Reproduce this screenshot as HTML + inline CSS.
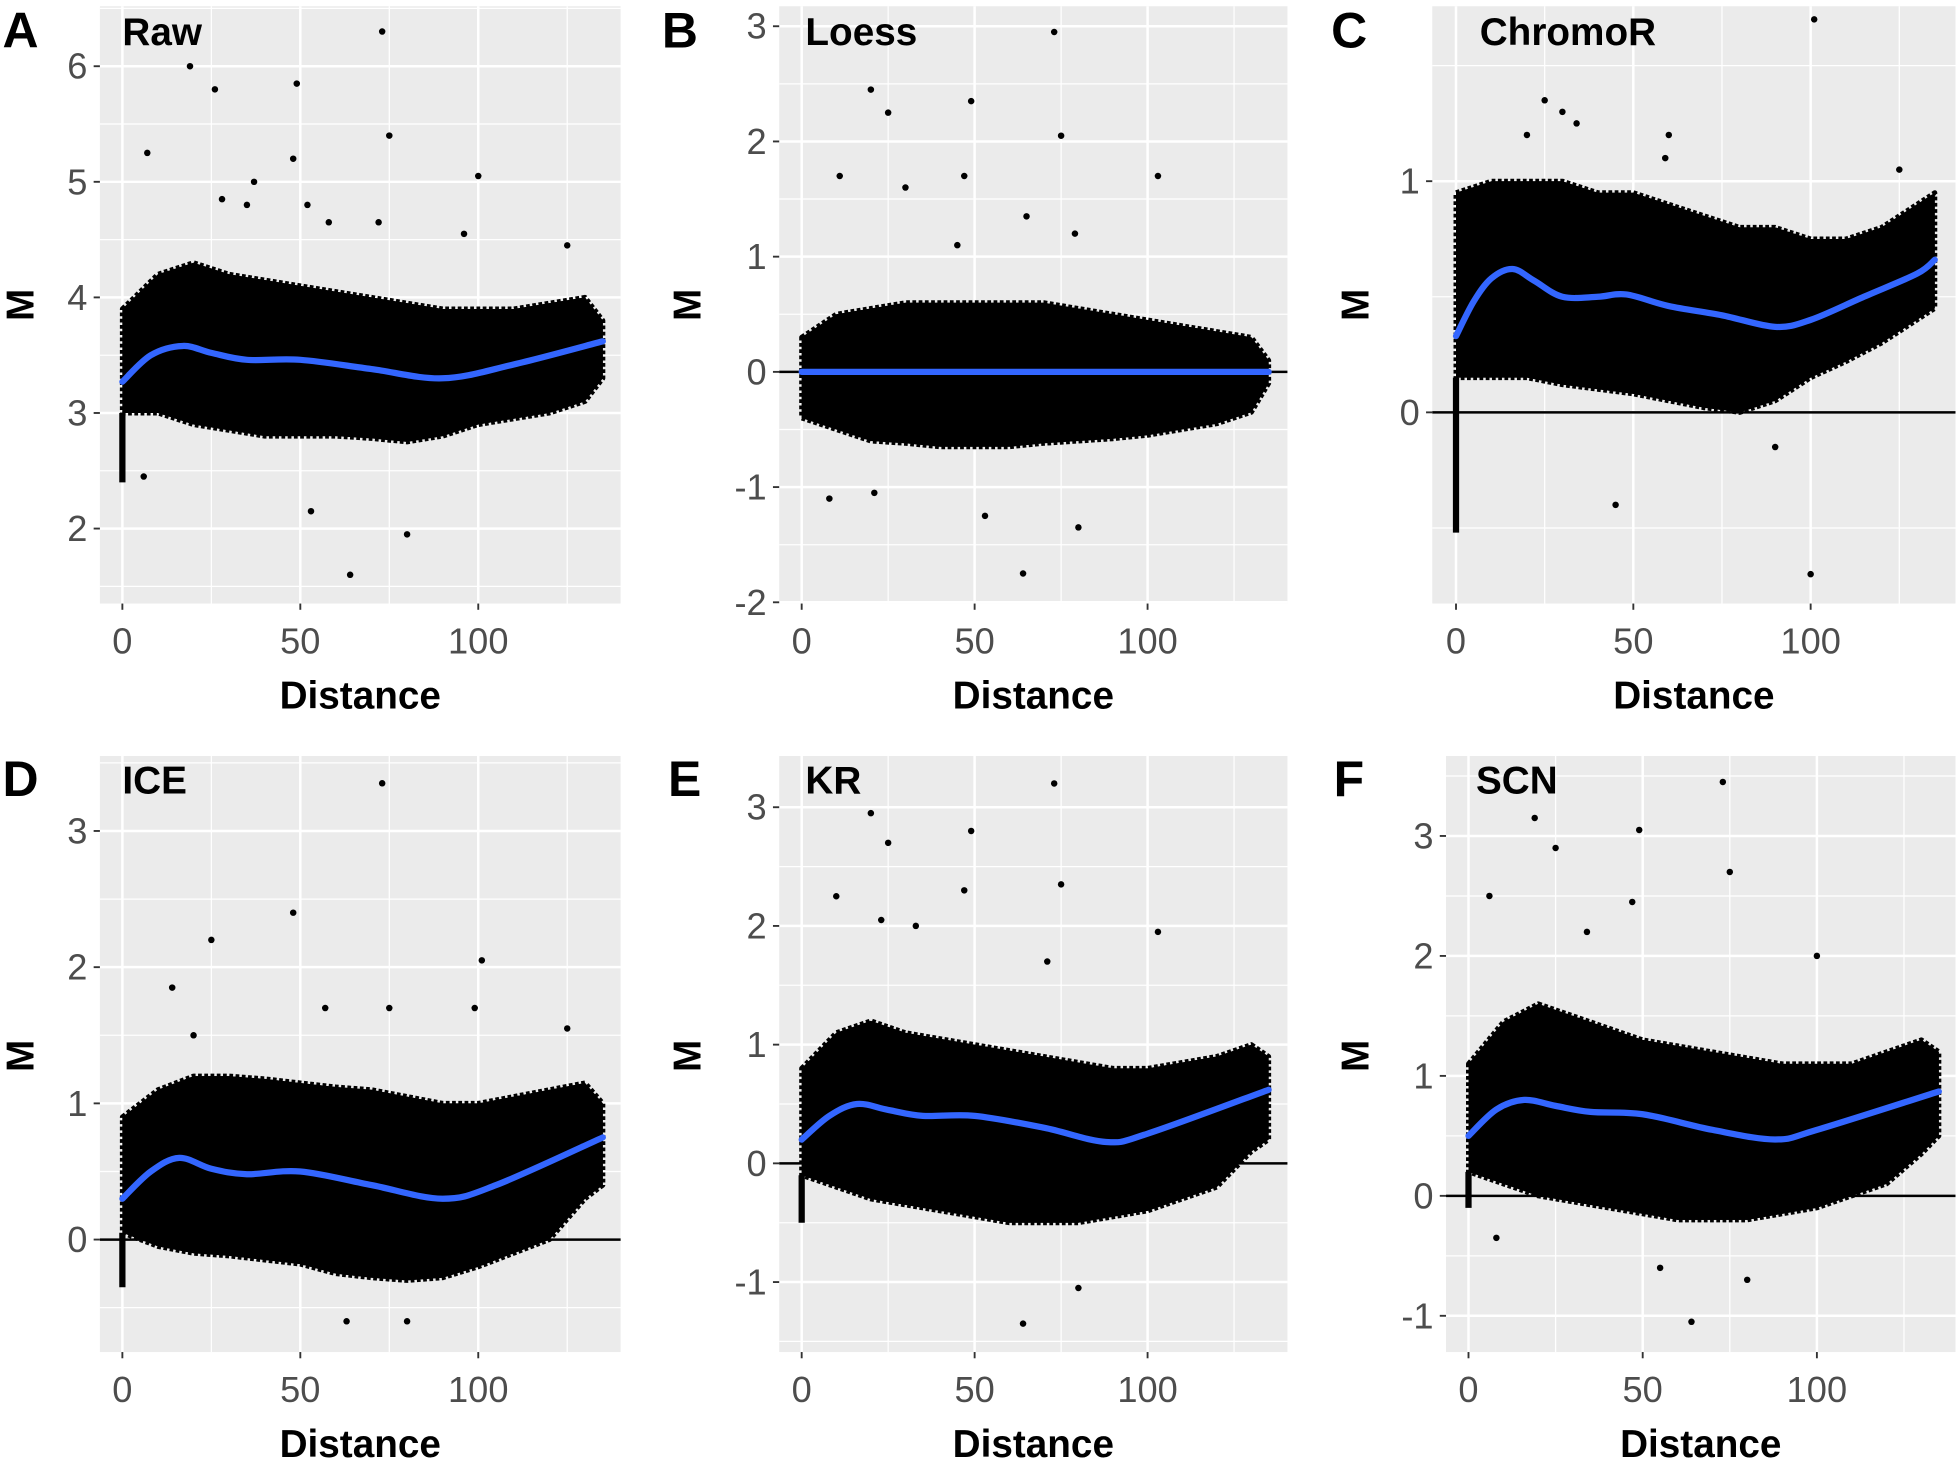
<!DOCTYPE html>
<html><head><meta charset="utf-8"><style>
html,body{margin:0;padding:0;background:#fff}
svg{display:block}
text{font-family:"Liberation Sans",Arial,sans-serif}
</style></head><body>
<svg id="fig" width="1958" height="1462" viewBox="0 0 1568 1170" preserveAspectRatio="none" xmlns="http://www.w3.org/2000/svg"></svg>
<script>
// ---- data ----
const letters = ["A","B","C","D","E","F"];
const titles = ["Raw","Loess","ChromoR","ICE","KR","SCN"];
const xTicks = [0,50,100];
const yTicksA = [2,3,4,5,6];
const yTicksB = [-2,-1,0,1,2,3];
const yTicksC = [0,1];
const yTicksD = [0,1,2,3];
const yTicksE = [-1,0,1,2,3];
const yTicksF = [-1,0,1,2,3];

const smoothDistA = [0,8,17,25,35,50,70,90,110,135];
const smoothA = [3.27,3.50,3.58,3.52,3.46,3.46,3.38,3.30,3.42,3.62];
const smoothDistB = [0,135];
const smoothB = [0,0];
const smoothDistC = [0,5,10,16,22,30,40,48,60,75,90,100,115,130,135];
const smoothC = [0.33,0.48,0.58,0.62,0.57,0.50,0.50,0.51,0.46,0.42,0.37,0.40,0.50,0.60,0.66];
const smoothDistD = [0,8,16,25,35,50,70,90,105,135];
const smoothD = [0.3,0.5,0.6,0.52,0.48,0.5,0.4,0.3,0.4,0.75];
const smoothDistE = [0,8,16,25,35,50,70,88,100,135];
const smoothE = [0.2,0.4,0.5,0.45,0.4,0.4,0.3,0.18,0.25,0.62];
const smoothDistF = [0,8,16,25,35,50,70,88,100,135];
const smoothF = [0.5,0.72,0.8,0.75,0.7,0.68,0.55,0.47,0.55,0.87];

const envDist = [0,10,20,30,40,50,60,70,80,90,100,110,120,130,135];
const upperA = [3.9,4.2,4.3,4.2,4.15,4.1,4.05,4.0,3.95,3.9,3.9,3.9,3.95,4.0,3.8];
const lowerA = [3.0,3.0,2.9,2.85,2.8,2.8,2.8,2.78,2.75,2.8,2.9,2.95,3.0,3.1,3.3];
const upperB = [0.3,0.5,0.55,0.6,0.6,0.6,0.6,0.6,0.55,0.5,0.45,0.4,0.35,0.3,0.1];
const lowerB = [-0.4,-0.5,-0.6,-0.62,-0.65,-0.65,-0.65,-0.62,-0.6,-0.58,-0.55,-0.5,-0.45,-0.35,-0.1];
const upperC = [0.95,1.0,1.0,1.0,0.95,0.95,0.9,0.85,0.8,0.8,0.75,0.75,0.8,0.9,0.95];
const lowerC = [0.15,0.15,0.15,0.12,0.1,0.08,0.05,0.02,0.0,0.05,0.15,0.22,0.3,0.4,0.45];
const upperD = [0.9,1.1,1.2,1.2,1.18,1.15,1.12,1.1,1.05,1.0,1.0,1.05,1.1,1.15,1.0];
const lowerD = [0.05,-0.05,-0.1,-0.12,-0.15,-0.18,-0.25,-0.28,-0.3,-0.28,-0.2,-0.1,0.0,0.3,0.4];
const upperE = [0.8,1.1,1.2,1.1,1.05,1.0,0.95,0.9,0.85,0.8,0.8,0.85,0.9,1.0,0.9];
const lowerE = [-0.1,-0.2,-0.3,-0.35,-0.4,-0.45,-0.5,-0.5,-0.5,-0.45,-0.4,-0.3,-0.2,0.1,0.2];
const upperF = [1.1,1.45,1.6,1.5,1.4,1.3,1.25,1.2,1.15,1.1,1.1,1.1,1.2,1.3,1.2];
const lowerF = [0.2,0.1,0.0,-0.05,-0.1,-0.15,-0.2,-0.2,-0.2,-0.15,-0.1,0.0,0.1,0.35,0.5];

const stackMin = [2.4,null,-0.52,-0.35,-0.5,-0.1];

const outXA = [7,19,26,37,48,49,52,73,75,100,80,64,53,35,58,72,96,125,6,28];
const outYA = [5.25,6.0,5.8,5.0,5.2,5.85,4.8,6.3,5.4,5.05,1.95,1.6,2.15,4.8,4.65,4.65,4.55,4.45,2.45,4.85];
const outXB = [11,20,25,47,49,73,75,103,45,65,79,8,21,53,64,80,30];
const outYB = [1.7,2.45,2.25,1.7,2.35,2.95,2.05,1.7,1.1,1.35,1.2,-1.1,-1.05,-1.25,-1.75,-1.35,1.6];
const outXC = [25,30,101,100,45,90,59,125,20,34,60];
const outYC = [1.35,1.3,1.7,-0.7,-0.4,-0.15,1.1,1.05,1.2,1.25,1.2];
const outXD = [14,25,48,73,101,125,63,80,57,75,99,20];
const outYD = [1.85,2.2,2.4,3.35,2.05,1.55,-0.6,-0.6,1.7,1.7,1.7,1.5];
const outXE = [10,20,25,47,49,73,75,103,64,80,23,33,71];
const outYE = [2.25,2.95,2.7,2.3,2.8,3.2,2.35,1.95,-1.35,-1.05,2.05,2.0,1.7];
const outXF = [6,19,25,47,49,73,75,100,64,80,8,55,34];
const outYF = [2.5,3.15,2.9,2.45,3.05,3.45,2.7,2.0,-1.05,-0.7,-0.35,-0.6,2.2];

// ---- layout (pixel geometry, not data) ----
const layout = [
 {x0:80,x1:497,y0:5,y1:483,xz:98,xh:383,va:6,pa:53,vb:2,pb:423,hline:false,lx:2,ly:38,tx:98,mx:27,my:244},
 {x0:624,x1:1031,y0:5,y1:483,xz:642,xh:919,va:3,pa:21,vb:-2,pb:482,hline:true,lx:530,ly:38,tx:645,mx:561,my:244},
 {x0:1147,x1:1566,y0:5,y1:483,xz:1166,xh:1450,va:1,pa:145,vb:0,pb:330,hline:true,lx:1066,ly:38,tx:1185,mx:1096,my:244},
 {x0:80,x1:497,y0:605,y1:1082,xz:98,xh:383,va:3,pa:665,vb:0,pb:992,hline:true,lx:2,ly:637,tx:98,mx:27,my:845},
 {x0:624,x1:1031,y0:605,y1:1082,xz:642,xh:919,va:3,pa:646,vb:0,pb:931,hline:true,lx:535,ly:637,tx:645,mx:561,my:845},
 {x0:1158,x1:1566,y0:605,y1:1082,xz:1176,xh:1455,va:3,pa:669,vb:0,pb:957,hline:true,lx:1068,ly:637,tx:1182,mx:1096,my:845}
];
const yTicksAll=[yTicksA,yTicksB,yTicksC,yTicksD,yTicksE,yTicksF];
const smDist=[smoothDistA,smoothDistB,smoothDistC,smoothDistD,smoothDistE,smoothDistF];
const smVal=[smoothA,smoothB,smoothC,smoothD,smoothE,smoothF];
const ups=[upperA,upperB,upperC,upperD,upperE,upperF];
const lows=[lowerA,lowerB,lowerC,lowerD,lowerE,lowerF];
const oxs=[outXA,outXB,outXC,outXD,outXE,outXF];
const oys=[outYA,outYB,outYC,outYD,outYE,outYF];

const NS="http://www.w3.org/2000/svg";
const svg=document.getElementById('fig');
function mk(tag,attrs,parent){const e=document.createElementNS(NS,tag);for(const k in attrs)e.setAttribute(k,attrs[k]);(parent||svg).appendChild(e);return e;}

layout.forEach((L,i)=>{
  const sx=v=>L.xz+(L.xh-L.xz)*v/100;
  const sy=v=>L.pa+(L.pb-L.pa)*(v-L.va)/(L.vb-L.va);
  const g=mk('g',{});
  
  
  const bg=mk('rect',{x:L.x0,y:L.y0,width:L.x1-L.x0,height:L.y1-L.y0,fill:'#ebebeb'},g);
  
  
  const xstep=25, ys=yTicksAll[i];
  for(let v=-25;v<=175;v+=xstep){const X=sx(v);if(X<=L.x0||X>=L.x1)continue;
    mk('line',{x1:X,x2:X,y1:L.y0,y2:L.y1,stroke:'#fff','stroke-width':v%50===0?2:1},g);}
  const d=ys[1]-ys[0];
  for(let v=ys[0]-d;v<=ys[ys.length-1]+d+1e-9;v+=d/2){const Y=sy(v);if(Y<=L.y0||Y>=L.y1)continue;
    const major=Math.abs(Math.round(v/d)*d-v)<1e-9;
    mk('line',{x1:L.x0,x2:L.x1,y1:Y,y2:Y,stroke:'#fff','stroke-width':major?2:1},g);}
  let pts=envDist.map((x,k)=>sx(x)+','+sy(ups[i][k]));
  pts=pts.concat(envDist.map((x,k)=>[x,k]).reverse().map(([x,k])=>sx(x)+','+sy(lows[i][k])));
  const band=mk('polygon',{points:pts.join(' '),fill:'#000',stroke:'#000','stroke-width':4,'stroke-linejoin':'round','stroke-dasharray':'3 2'},g);
  
  
  const band2=mk('polygon',{points:pts.join(' '),fill:'#000'},g);
  
  
  if(stackMin[i]!==null){
    const st=mk('line',{x1:sx(0),x2:sx(0),y1:sy(lows[i][0]),y2:sy(stackMin[i]),stroke:'#000','stroke-width':5},g);
    
    
  }
  oxs[i].forEach((x,k)=>{
    const c=mk('circle',{cx:sx(x),cy:sy(oys[i][k]),r:2.6,fill:'#000'},g);
    
    
  });
  if(L.hline){
    const h=mk('line',{x1:L.x0,x2:L.x1,y1:sy(0),y2:sy(0),stroke:'#000','stroke-width':2},g);
    
    
  }
  const sp=smDist[i].map((x,k)=>[sx(x),sy(smVal[i][k])]);
  let dstr='M'+sp[0][0]+','+sp[0][1];
  for(let k=0;k<sp.length-1;k++){
    const p0=sp[Math.max(0,k-1)],p1=sp[k],p2=sp[k+1],p3=sp[Math.min(sp.length-1,k+2)];
    dstr+=' C'+(p1[0]+(p2[0]-p0[0])/6)+','+(p1[1]+(p2[1]-p0[1])/6)+' '+(p2[0]-(p3[0]-p1[0])/6)+','+(p2[1]-(p3[1]-p1[1])/6)+' '+p2[0]+','+p2[1];
  }
  const sm=mk('path',{d:dstr,fill:'none',stroke:'#3366ff','stroke-width':5,'stroke-linecap':'round'},g);
  
  
  xTicks.forEach(v=>{
    const X=sx(v);
    mk('line',{x1:X,x2:X,y1:L.y1,y2:L.y1+5,stroke:'#333','stroke-width':1.5},g);
    const t=mk('text',{x:X,y:L.y1+40,'text-anchor':'middle','font-size':29,fill:'#4d4d4d'},g);
    t.textContent=v;
    
    
  });
  ys.forEach(v=>{
    const Y=sy(v);if(Y<L.y0||Y>L.y1)return;
    mk('line',{x1:L.x0-5,x2:L.x0,y1:Y,y2:Y,stroke:'#333','stroke-width':1.5},g);
    const t=mk('text',{x:L.x0-10,y:Y+10,'text-anchor':'end','font-size':29,fill:'#4d4d4d'},g);
    t.textContent=v;
    
    
  });
  const xt=mk('text',{x:(L.x0+L.x1)/2,y:L.y1+84,'text-anchor':'middle','font-size':31,'font-weight':'bold',fill:'#000'},g);
  xt.textContent='Distance';
  
  
  const yt=mk('text',{x:L.mx,y:L.my,'text-anchor':'middle','font-size':31,'font-weight':'bold',fill:'#000',transform:'rotate(-90 '+L.mx+' '+L.my+')'},g);
  yt.textContent='M';
  
  
  const lt=mk('text',{x:L.lx,y:L.ly,'font-size':40,'font-weight':'bold',fill:'#000'},g);
  lt.textContent=letters[i];
  
  
  const tt=mk('text',{x:L.tx,y:L.ly-2,'font-size':31,'font-weight':'bold',fill:'#000'},g);
  tt.textContent=titles[i];
  
  
});
</script>
</body></html>
